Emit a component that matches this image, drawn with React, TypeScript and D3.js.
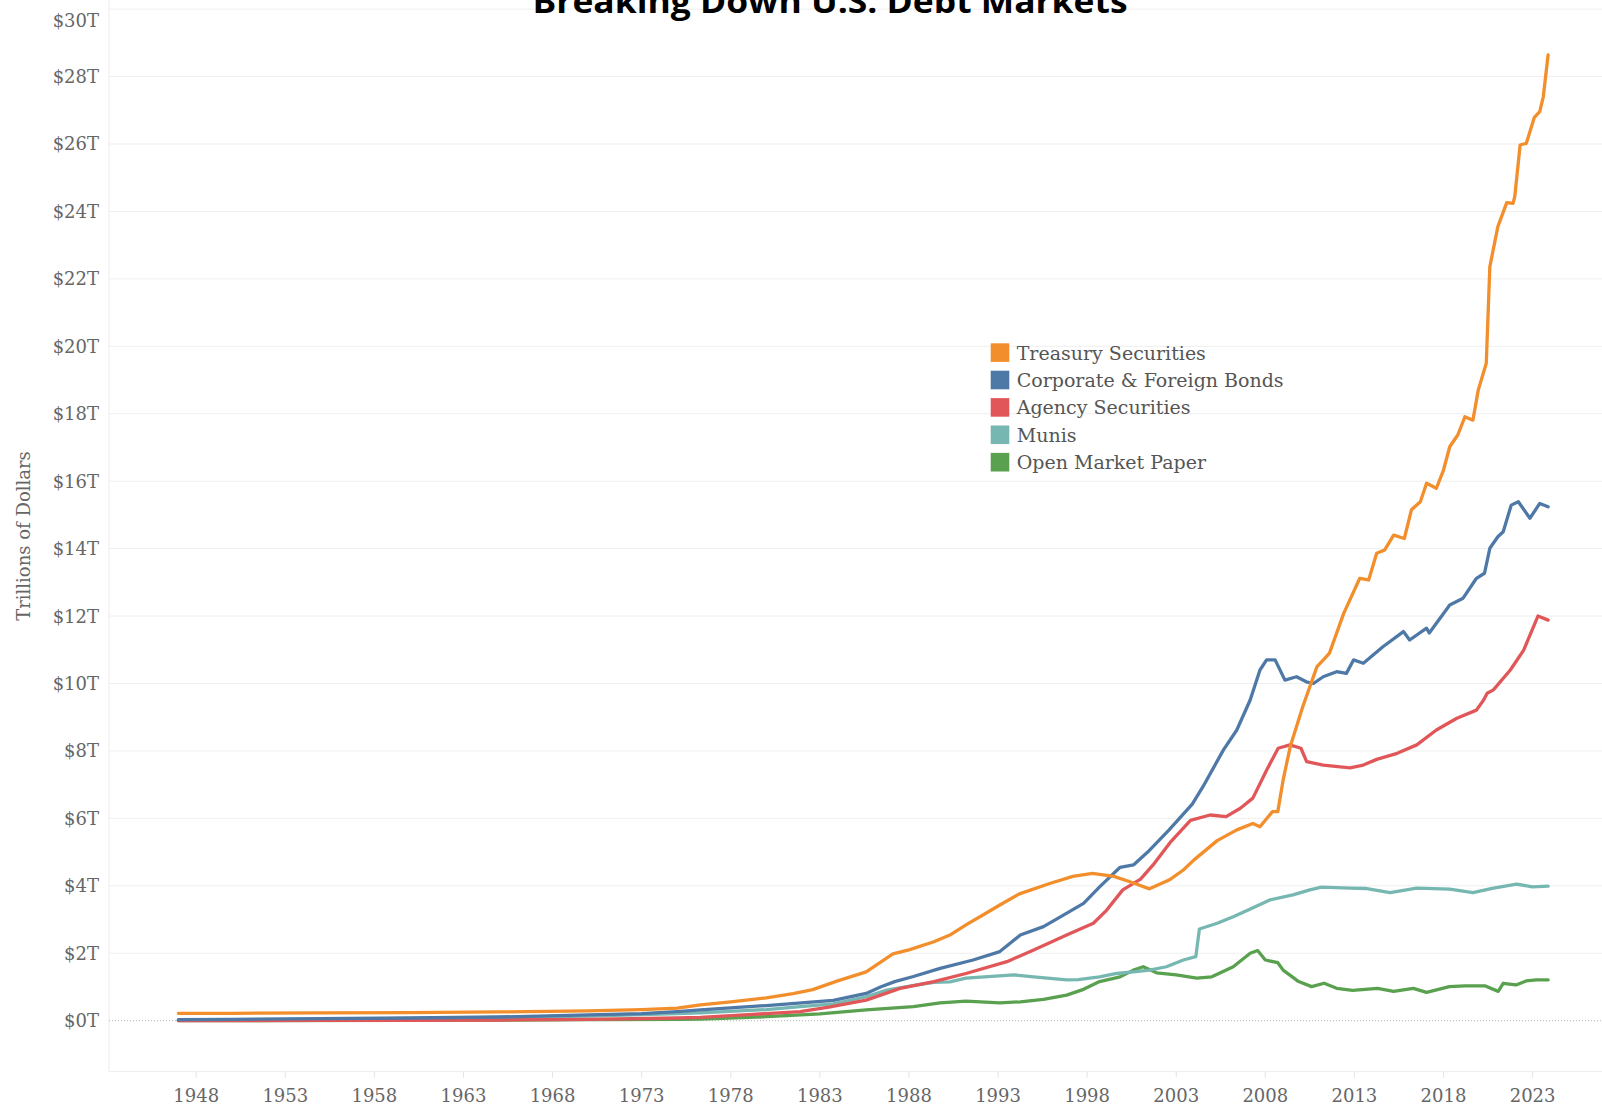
import React from "react";
import * as d3 from "d3";

type Pt = [number, number];

const seriesNames = [
  "Treasury Securities",
  "Corporate & Foreign Bonds",
  "Agency Securities",
  "Munis",
  "Open Market Paper",
];
const seriesColors = ["#f28e2b", "#4e79a7", "#e15759", "#76b7b2", "#59a14f"];

const treasury: Pt[] = [
  [1947.0, 0.22], [1950, 0.22], [1955, 0.23], [1960, 0.24], [1965, 0.26], [1970, 0.29], [1973, 0.33],
  [1975.0, 0.37], [1976.3, 0.47], [1978, 0.56], [1980, 0.68], [1981.5, 0.8], [1982.6, 0.92], [1984, 1.18],
  [1985.6, 1.45], [1987.1, 1.98], [1988, 2.1], [1989.4, 2.34], [1990.3, 2.54], [1991.2, 2.84], [1992.2, 3.15],
  [1993.1, 3.43], [1994.2, 3.76], [1995.9, 4.07], [1997.2, 4.28], [1998.3, 4.37], [1999.5, 4.28], [2000.4, 4.12],
  [2001.5, 3.91], [2002.6, 4.17], [2003.4, 4.47], [2004, 4.77], [2005.3, 5.34], [2006.4, 5.66], [2007.3, 5.85],
  [2007.7, 5.75], [2008.4, 6.2], [2008.7, 6.2], [2009.0, 7.14], [2009.4, 8.13], [2010.1, 9.31], [2010.9, 10.5],
  [2011.35, 10.75], [2011.6, 10.9], [2012.4, 12.08], [2013.3, 13.12], [2013.8, 13.07], [2014.25, 13.86],
  [2014.7, 13.96], [2015.2, 14.4], [2015.8, 14.3], [2016.2, 15.15], [2016.7, 15.39], [2017.05, 15.94],
  [2017.6, 15.79], [2018.0, 16.33], [2018.35, 17.02], [2018.8, 17.37], [2019.2, 17.91], [2019.65, 17.81],
  [2019.95, 18.7], [2020.4, 19.5], [2020.6, 22.36], [2021.05, 23.55], [2021.55, 24.26], [2021.9, 24.24],
  [2022.0, 24.44], [2022.3, 25.97], [2022.65, 26.02], [2023.1, 26.79], [2023.4, 26.96], [2023.6, 27.4],
  [2023.87, 28.64],
];

const corporate: Pt[] = [
  [1947, 0.03], [1950, 0.04], [1955, 0.06], [1960, 0.08], [1965, 0.11], [1970, 0.17], [1973, 0.21],
  [1975, 0.27], [1976.3, 0.32], [1980, 0.45], [1983.75, 0.6], [1985.6, 0.81], [1986.4, 1.0], [1987.2, 1.16],
  [1988.25, 1.31], [1989.75, 1.55], [1991.6, 1.8], [1993.1, 2.05], [1994.25, 2.54], [1995.55, 2.79],
  [1996.5, 3.08], [1997.8, 3.48], [1998.7, 3.97], [1999.85, 4.55], [2000.6, 4.62], [2001.4, 5.0],
  [2002.6, 5.66], [2003.9, 6.42], [2004.5, 6.94], [2005.65, 8.03], [2006.4, 8.62], [2007.15, 9.51],
  [2007.7, 10.4], [2008.07, 10.7], [2008.55, 10.7], [2009.1, 10.1], [2009.75, 10.2], [2010.3, 10.05],
  [2010.7, 10.0], [2011.25, 10.2], [2012.0, 10.35], [2012.55, 10.3], [2012.95, 10.7], [2013.5, 10.6],
  [2014.6, 11.09], [2015.75, 11.54], [2016.1, 11.29], [2017.05, 11.64], [2017.2, 11.5], [2018.35, 12.33],
  [2019.1, 12.53], [2019.85, 13.12], [2020.3, 13.27], [2020.6, 14.01], [2021.05, 14.35], [2021.35, 14.5],
  [2021.8, 15.29], [2022.2, 15.39], [2022.85, 14.9], [2023.4, 15.34], [2023.87, 15.24],
];

const agency: Pt[] = [
  [1947, 0.005], [1955, 0.008], [1960, 0.012], [1965, 0.02], [1970, 0.04], [1975, 0.08], [1976.3, 0.1],
  [1979, 0.18], [1981.9, 0.27], [1983.5, 0.4], [1985.6, 0.61], [1987.5, 0.96], [1989.4, 1.16], [1991.2, 1.4],
  [1993.5, 1.75], [1995, 2.1], [1996.85, 2.54], [1998.35, 2.89], [1999.1, 3.28], [2000.0, 3.88], [2001.0, 4.2],
  [2001.7, 4.62], [2002.65, 5.28], [2003.8, 5.94], [2004.9, 6.1], [2005.8, 6.05], [2006.6, 6.3], [2007.3, 6.6],
  [2008.07, 7.43], [2008.72, 8.08], [2009.38, 8.18], [2010.0, 8.08], [2010.32, 7.68], [2011.25, 7.58],
  [2012.75, 7.5], [2013.5, 7.58], [2014.25, 7.75], [2015.4, 7.93], [2016.5, 8.18], [2017.6, 8.62],
  [2018.75, 8.97], [2019.85, 9.21], [2020.25, 9.51], [2020.45, 9.71], [2020.8, 9.81], [2021.75, 10.4],
  [2022.5, 10.99], [2023.3, 12.0], [2023.87, 11.88],
];

const munis: Pt[] = [
  [1947, 0.02], [1955, 0.04], [1960, 0.07], [1965, 0.1], [1970, 0.14], [1975, 0.21], [1976.3, 0.23],
  [1980, 0.33], [1981.9, 0.42], [1983.75, 0.5], [1985.6, 0.71], [1986.75, 0.91], [1988.3, 1.05],
  [1989.4, 1.14], [1990.3, 1.15], [1991.2, 1.26], [1993.9, 1.36], [1995, 1.3], [1996.85, 1.21],
  [1997.5, 1.22], [1998.7, 1.3], [1999.65, 1.4], [2000.6, 1.45], [2001.5, 1.5], [2002.45, 1.6],
  [2003.4, 1.8], [2004.1, 1.9], [2004.3, 2.72], [2005.3, 2.89], [2006.2, 3.08], [2007.1, 3.3],
  [2008.25, 3.58], [2009.55, 3.73], [2010.5, 3.88], [2011.15, 3.96], [2012.75, 3.93], [2013.7, 3.92],
  [2015.0, 3.8], [2016.5, 3.93], [2018.35, 3.9], [2019.65, 3.8], [2020.8, 3.93], [2022.1, 4.05],
  [2023.0, 3.97], [2023.87, 3.99],
];

const openMarketPaper: Pt[] = [
  [1947, 0.002], [1960, 0.01], [1970, 0.03], [1975, 0.04], [1976.3, 0.05], [1980, 0.12], [1983, 0.2],
  [1985.6, 0.32], [1988.25, 0.42], [1989.75, 0.53], [1991.2, 0.58], [1993.1, 0.53], [1994.25, 0.56],
  [1995.55, 0.63], [1996.85, 0.76], [1997.8, 0.93], [1998.7, 1.16], [1999.85, 1.3], [2000.6, 1.5],
  [2001.15, 1.6], [2001.9, 1.42], [2003.0, 1.36], [2004.15, 1.26], [2005.0, 1.3], [2006.2, 1.6],
  [2007.15, 2.0], [2007.57, 2.08], [2008.0, 1.8], [2008.7, 1.72], [2009.0, 1.5], [2009.87, 1.16],
  [2010.6, 1.01], [2011.3, 1.11], [2012.0, 0.96], [2012.9, 0.9], [2014.3, 0.96], [2015.2, 0.87],
  [2016.3, 0.96], [2017.05, 0.84], [2018.33, 1.01], [2019.2, 1.03], [2020.35, 1.03], [2021.07, 0.87],
  [2021.35, 1.11], [2022.07, 1.06], [2022.64, 1.18], [2023.2, 1.21], [2023.87, 1.21],
];

const seriesData = [treasury, corporate, agency, munis, openMarketPaper];

const yTicks = d3.range(0, 31, 2);
const xTicks = d3.range(1948, 2024, 5);

const W = 1602;
const H = 1110;
const plotLeft = 109;
const serif = "Georgia, 'DejaVu Serif', serif";

export default function App() {
  const x = d3.scaleLinear().domain([1948, 2023]).range([196.2, 1532.6]);
  const y = d3.scaleLinear().domain([0, 30]).range([1020.7, 9.1]);
  const plotBottom = y(-1.51);

  const line = d3
    .line<Pt>()
    .x((d) => x(d[0]))
    .y((d) => y(d[1]))
    .curve(d3.curveLinear);

  const drawOrder = [4, 3, 2, 1, 0];

  return (
    <svg
      width={W}
      height={H}
      viewBox={`0 0 ${W} ${H}`}
      style={{ position: "absolute", left: 0, top: 0, background: "#fff" }}
    >
      <rect x={0} y={0} width={W} height={H} fill="#fff" />
      {yTicks
        .filter((t) => t !== 0)
        .map((t) => (
          <line key={"g" + t} x1={plotLeft} x2={W} y1={y(t)} y2={y(t)} stroke="#efefef" strokeWidth={1} />
        ))}
      <line x1={plotLeft} x2={plotLeft} y1={0} y2={plotBottom} stroke="#ececec" strokeWidth={1} />
      <line x1={plotLeft} x2={W} y1={plotBottom} y2={plotBottom} stroke="#ececec" strokeWidth={1} />
      <line
        x1={plotLeft}
        x2={W}
        y1={y(0)}
        y2={y(0)}
        stroke="#b5b5b5"
        strokeWidth={1}
        strokeDasharray="1,2"
      />
      {yTicks.map((t) => (
        <text
          key={"yl" + t}
          x={99}
          y={Math.max(y(t), 20)}
          textAnchor="end"
          dominantBaseline="central"
          fontFamily={serif}
          fontSize={18}
          fill="#666"
        >
          {`$${t}T`}
        </text>
      ))}
      {xTicks.map((t) => (
        <g key={"x" + t}>
          <line x1={x(t)} x2={x(t)} y1={plotBottom} y2={plotBottom + 6} stroke="#e4e4e4" strokeWidth={1} />
          <text
            x={x(t)}
            y={1102}
            textAnchor="middle"
            fontFamily={serif}
            fontSize={18}
            fill="#666"
          >
            {t}
          </text>
        </g>
      ))}
      <text
        transform={`translate(30,536) rotate(-90)`}
        textAnchor="middle"
        fontFamily={serif}
        fontSize={18}
        fill="#666"
      >
        Trillions of Dollars
      </text>
      {drawOrder.map((i) => (
        <path
          key={"s" + i}
          d={line(seriesData[i]) || ""}
          fill="none"
          stroke={seriesColors[i]}
          strokeWidth={3.3}
          strokeLinejoin="round"
          strokeLinecap="round"
        />
      ))}
      {seriesNames.map((n, i) => (
        <g key={"lg" + i} transform={`translate(990.7, ${343.3 + i * 27.4})`}>
          <rect x={0} y={0} width={18.6} height={18.6} fill={seriesColors[i]} />
          <text
            x={26}
            y={9.3}
            dominantBaseline="central"
            fontFamily={serif}
            fontSize={19}
            fill="#555"
          >
            {n}
          </text>
        </g>
      ))}
      <text
        x={830}
        y={12.5}
        textAnchor="middle"
        fontFamily="'Open Sans', 'Liberation Sans', sans-serif"
        fontWeight="bold"
        fontSize={32}
        textLength={595}
        lengthAdjust="spacingAndGlyphs"
        fill="#000"
      >
        Breaking Down U.S. Debt Markets
      </text>
    </svg>
  );
}
